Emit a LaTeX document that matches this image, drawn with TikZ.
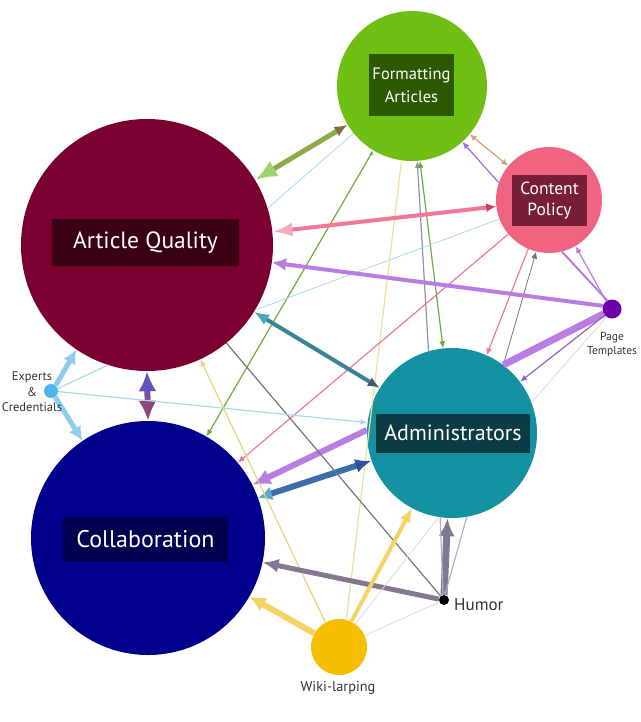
\documentclass[tikz,border=0pt]{standalone}
\usepackage{fontspec}
\setmainfont{PT Sans}
\usetikzlibrary{arrows.meta}
\definecolor{aqred}{RGB}{122,0,50}
\definecolor{aqdark}{RGB}{58,0,20}
\definecolor{colblue}{RGB}{0,0,140}
\definecolor{coldark}{RGB}{0,0,78}
\definecolor{fagreen}{RGB}{110,190,20}
\definecolor{fadark}{RGB}{45,90,0}
\definecolor{cppink}{RGB}{240,100,130}
\definecolor{cpdark}{RGB}{120,30,55}
\definecolor{admteal}{RGB}{20,145,160}
\definecolor{admdark}{RGB}{10,60,68}
\definecolor{ptpurple}{RGB}{110,0,170}
\definecolor{ecblue}{RGB}{80,180,240}
\definecolor{wikigold}{RGB}{245,190,0}
\definecolor{olivemid}{RGB}{140,170,70}
\definecolor{lightgreen}{RGB}{160,210,110}
\definecolor{darkolive}{RGB}{130,110,70}
\definecolor{skyline}{RGB}{170,215,235}
\definecolor{skymid}{RGB}{140,205,240}
\definecolor{linkgreen}{RGB}{110,170,60}
\definecolor{paleyellow}{RGB}{240,225,150}
\definecolor{greypurple}{RGB}{150,140,180}
\definecolor{tanline}{RGB}{210,160,120}
\definecolor{violetline}{RGB}{160,110,210}
\definecolor{pinkmid}{RGB}{240,120,150}
\definecolor{pinklight}{RGB}{245,170,185}
\definecolor{pinkdark}{RGB}{210,60,100}
\definecolor{greyline}{RGB}{120,115,130}
\definecolor{lavender}{RGB}{185,125,225}
\definecolor{purpleline}{RGB}{140,100,200}
\definecolor{faintline}{RGB}{225,215,220}
\definecolor{tealmid}{RGB}{60,130,150}
\definecolor{teallight}{RGB}{70,170,190}
\definecolor{slateline}{RGB}{70,90,110}
\definecolor{steelmid}{RGB}{60,110,170}
\definecolor{steellight}{RGB}{90,170,200}
\definecolor{steeldark}{RGB}{50,80,160}
\definecolor{plummid}{RGB}{120,80,160}
\definecolor{plumtop}{RGB}{100,80,190}
\definecolor{plumbottom}{RGB}{140,70,120}
\definecolor{greymid}{RGB}{130,120,145}
\definecolor{greylight}{RGB}{180,175,190}
\definecolor{goldline}{RGB}{245,210,100}
\definecolor{yellowline}{RGB}{235,210,120}
\tikzset{
  hub/.style={circle, inner sep=0pt, draw=none},
  tag/.style={text=white, inner sep=0pt, align=center},
  note/.style={text=black!80, inner sep=0pt, align=center},
  thinlink/.style={line width=1.2pt},
  stip/.tip={Latex[length=7pt,width=6pt]}
}

\begin{document}
\begin{tikzpicture}[x=1pt,y=-1pt]
\useasboundingbox (0,0) rectangle (640,722);

% circles
\node[hub, fill=aqred, minimum size=252pt] (aq) at (147,245) {};
\node[hub, fill=colblue, minimum size=234pt] (col) at (148,538) {};
\node[hub, fill=fagreen, minimum size=150pt] (fa) at (412,86) {};
\node[hub, fill=cppink, minimum size=106pt] (cp) at (549,200) {};
\node[hub, fill=admteal, minimum size=170pt] (adm) at (452,433) {};
\node[hub, fill=ptpurple, minimum size=19pt] (pt) at (612,309) {};
\node[hub, fill=ecblue, minimum size=14pt] (ec) at (51,391) {};
\node[hub, fill=black, minimum size=10pt] (hu) at (444,600) {};
\node[hub, fill=wikigold, minimum size=56pt] (wl) at (339,647) {};

% labels
\node[tag, fill=aqdark, minimum width=187pt, minimum height=47pt, font=\fontsize{23.5}{27}\selectfont] (aqtag) at (145.5,242.5) {Article Quality};
\node[tag, fill=coldark, minimum width=165pt, minimum height=45pt, font=\fontsize{24}{28}\selectfont] (coltag) at (145.5,539.5) {Collaboration};
\node[tag, fill=admdark, minimum width=154pt, minimum height=39pt, font=\fontsize{22}{26}\selectfont] (admtag) at (453,433) {Administrators};
\node[tag, fill=fadark, minimum width=85pt, minimum height=62pt, font=\fontsize{16.5}{23}\selectfont] (fatag) at (411.5,85) {Formatting\\Articles};
\node[tag, fill=cpdark, minimum width=75pt, minimum height=51pt, font=\fontsize{17.5}{21}\selectfont] (cptag) at (549.5,200.5) {Content\\Policy};

% Formatting Articles
\draw[draw=olivemid, line width=5pt, {Latex[length=22pt,width=18pt,color=lightgreen]}-{Latex[length=13pt,width=11pt,color=darkolive]}] (aq.31) -- (fa.211);
\draw[skyline, line width=0.8pt] (aq.17) -- (fa.219);
\draw[thinlink, linkgreen, {Latex[length=5pt,width=4pt]}-stip] (fa.239) -- (col.60);
\draw[thinlink, paleyellow] (fa.262) -- (wl.75);
\draw[thinlink, greypurple, stip-] (fa.274) -- (adm.106);
\draw[thinlink, linkgreen, stip-stip] (fa.276) -- (adm.96);
\draw[thinlink, tanline, stip-stip] (fa.320) -- (cp.140);
\draw[thinlink, violetline, stip-] (fa.312) -- (cp.161);

% Content Policy
\draw[draw=pinkmid, line width=4pt, {Latex[length=20pt,width=14pt,color=pinklight]}-{Latex[length=10pt,width=9pt,color=pinkdark]}] (aq.6) -- (cp.187);
\draw[skyline, line width=0.8pt] (cp.201) -- (aq.329);
\draw[thinlink, pinkmid, -stip] (cp.220) -- (col.40);
\draw[thinlink, pinkmid, -stip] (cp.247) -- (adm.66);
\draw[thinlink, greyline, line width=0.8pt, stip-] (cp.256) -- (adm.53);

% Page Templates
\draw[lavender, line width=4pt, -{Latex[length=14pt,width=13pt]}] (pt.161) -- (aq.352);
\draw[lavender, line width=2pt] (pt.119) -- (cp.284);
\draw[thinlink, lavender, -stip] (pt.127) -- (cp.300);
\draw[lavender, line width=7pt] (pt.210) -- (adm.53);
\draw[thinlink, purpleline, -stip] (pt.221) -- (adm.37);
\draw[faintline, line width=0.8pt] (pt.235) -- (adm.21);

% Administrators
\draw[draw=tealmid, line width=4pt, {Latex[length=15pt,width=12pt,color=teallight]}-{Latex[length=12pt,width=10pt,color=slateline]}] (aq.328) -- (adm.148);
\draw[lavender, line width=6pt, -{Latex[length=18pt,width=16pt]}] (adm.178) -- (col.27);
\draw[draw=steelmid, line width=6pt, {Latex[length=14pt,width=14pt,color=steellight]}-{Latex[length=16pt,width=14pt,color=steeldark]}] (col.20) -- (adm.199);

% Article Quality and Collaboration
\draw[draw=plummid, line width=6pt, {Latex[length=20pt,width=18pt,color=plumtop]}-{Latex[length=20pt,width=18pt,color=plumbottom]}] (aq.270) -- (col.90);
\draw[thinlink, greyline] (aq.309) -- (hu);
\draw[thinlink, yellowline, stip-] (aq.295) -- (wl.119);

% Experts & Credentials
\draw[skymid, line width=5pt, -{Latex[length=14pt,width=14pt]}] (ec.50) -- (aq.236);
\draw[skymid, line width=5pt, -{Latex[length=14pt,width=14pt]}] (ec.-55) -- (col.124);
\draw[thinlink, skyline] (ec.20) -- (aq.252);
\draw[thinlink, skyline, -stip] (ec.355) -- (adm.173);

% Humor
\draw[greymid, line width=5pt, -{Latex[length=16pt,width=14pt]}] (hu.170) -- (col.348);
\draw[greymid, line width=7pt, -{Latex[length=18pt,width=16pt]}] (hu.90) -- (adm.267);
\draw[thinlink, greylight] (hu.100) -- (adm.262);
\draw[thinlink, greylight] (hu.80) -- (adm.280);

% Wiki-larping
\draw[goldline, line width=6pt, -{Latex[length=16pt,width=16pt]}] (wl.151) -- (col.330);
\draw[goldline, line width=4pt, -{Latex[length=14pt,width=12pt]}] (wl.64) -- (adm.242);
\draw[faintline, line width=0.8pt] (wl.24) -- (hu);
\draw[faintline, line width=0.8pt] (wl.55) -- (adm.261);

% small names, on top
\node[note, font=\fontsize{11.5}{14}\selectfont] (ptnote) at (612,345) {Page\\Templates};
\node[note, font=\fontsize{12.5}{15.5}\selectfont] (ecnote) at (32,392) {Experts\\\&\\Credentials};
\node[note, font=\fontsize{17}{20}\selectfont, anchor=west] (hunote) at (454,605) {Humor};
\node[note, font=\fontsize{14.3}{17}\selectfont] (wlnote) at (338,688) {Wiki-larping};

\end{tikzpicture}
\end{document}
